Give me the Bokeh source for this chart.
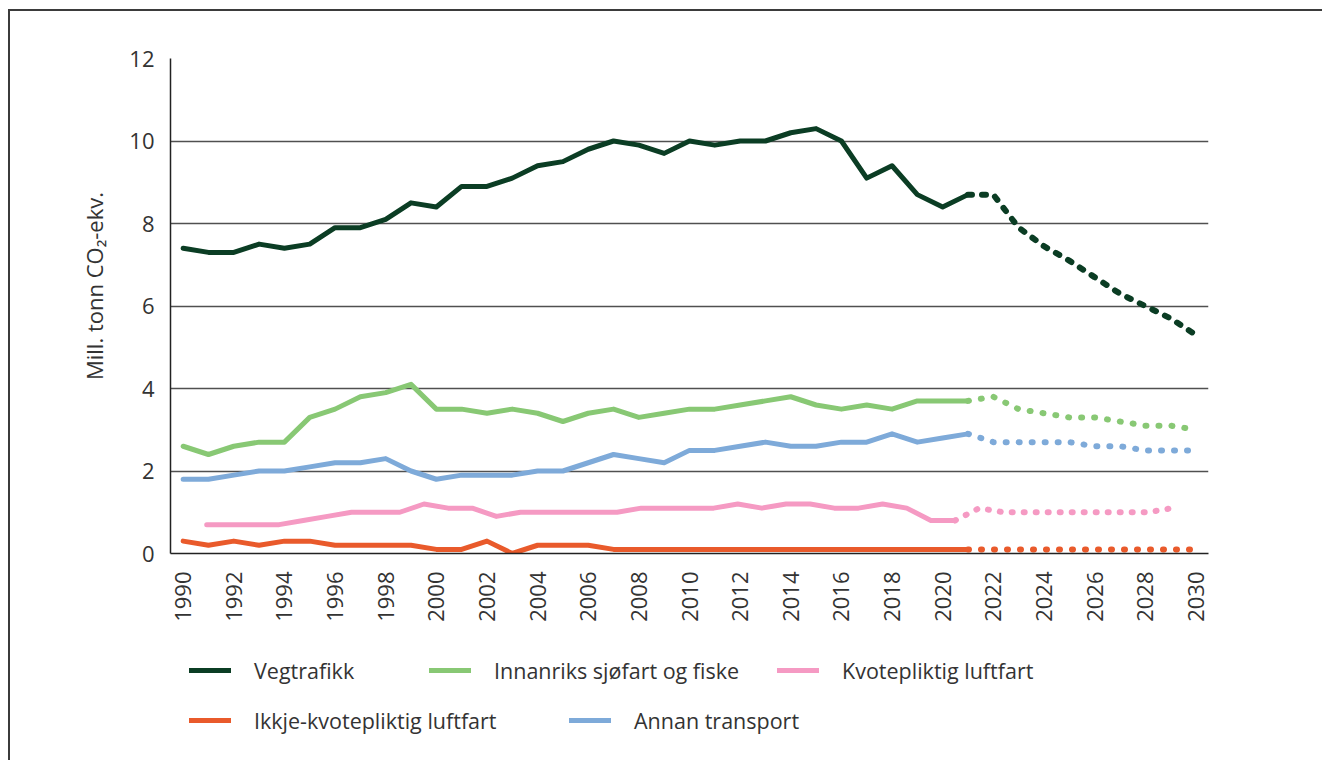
from math import pi
from bokeh.plotting import figure
from bokeh.layouts import column
from bokeh.models import Range1d, FixedTicker, Legend, LegendItem
from bokeh.embed import file_html
from bokeh.resources import INLINE

# ---------------- data ----------------
years_hist = list(range(1990, 2022))
years_proj = list(range(2021, 2031))

veg_hist = [7.4, 7.3, 7.3, 7.5, 7.4, 7.5, 7.9, 7.9, 8.1, 8.5, 8.4, 8.9, 8.9, 9.1, 9.4, 9.5,
            9.8, 10.0, 9.9, 9.7, 10.0, 9.9, 10.0, 10.0, 10.2, 10.3, 10.0, 9.1, 9.4, 8.7, 8.4, 8.7]
veg_proj = [8.7, 8.7, 7.9, 7.45, 7.1, 6.7, 6.3, 6.0, 5.7, 5.3]

sjo_hist = [2.6, 2.4, 2.6, 2.7, 2.7, 3.3, 3.5, 3.8, 3.9, 4.1, 3.5, 3.5, 3.4, 3.5, 3.4, 3.2,
            3.4, 3.5, 3.3, 3.4, 3.5, 3.5, 3.6, 3.7, 3.8, 3.6, 3.5, 3.6, 3.5, 3.7, 3.7, 3.7]
sjo_proj = [3.7, 3.8, 3.5, 3.4, 3.3, 3.3, 3.2, 3.1, 3.1, 3.0]

annan_hist = [1.8, 1.8, 1.9, 2.0, 2.0, 2.1, 2.2, 2.2, 2.3, 2.0, 1.8, 1.9, 1.9, 1.9, 2.0, 2.0,
              2.2, 2.4, 2.3, 2.2, 2.5, 2.5, 2.6, 2.7, 2.6, 2.6, 2.7, 2.7, 2.9, 2.7, 2.8, 2.9]
annan_proj = [2.9, 2.7, 2.7, 2.7, 2.7, 2.6, 2.6, 2.5, 2.5, 2.5]

ikkje_hist = [0.3, 0.2, 0.3, 0.2, 0.3, 0.3, 0.2, 0.2, 0.2, 0.2, 0.1, 0.1, 0.3, 0.0, 0.2, 0.2,
              0.2, 0.1, 0.1, 0.1, 0.1, 0.1, 0.1, 0.1, 0.1, 0.1, 0.1, 0.1, 0.1, 0.1, 0.1, 0.1]
ikkje_proj = [0.1, 0.1, 0.1, 0.1, 0.1, 0.1, 0.1, 0.1, 0.1, 0.1]

# In the original this series sits on its own, slightly compressed, category axis
kvote_years = list(range(1991, 2023))
kvote_proj_years = list(range(2022, 2032))
kvote_hist = [0.7, 0.7, 0.7, 0.7, 0.8, 0.9, 1.0, 1.0, 1.0, 1.2, 1.1, 1.1, 0.9, 1.0, 1.0, 1.0,
              1.0, 1.0, 1.1, 1.1, 1.1, 1.1, 1.2, 1.1, 1.2, 1.2, 1.1, 1.1, 1.2, 1.1, 0.8, 0.8]
kvote_proj = [0.8, 1.1, 1.0, 1.0, 1.0, 1.0, 1.0, 1.0, 1.0, 1.1]

x_ticks = [1990, 1992, 1994, 1996, 1998, 2000, 2002, 2004, 2006, 2008, 2010,
           2012, 2014, 2016, 2018, 2020, 2022, 2024, 2026, 2028, 2030]
y_ticks = [0, 2, 4, 6, 8, 10, 12]

y_label = "Mill. tonn CO₂-ekv."
labels = ["Vegtrafikk", "Innanriks sjøfart og fiske", "Kvotepliktig luftfart",
          "Ikkje-kvotepliktig luftfart", "Annan transport"]

C_VEG = "#0b3d24"
C_SJO = "#88c874"
C_KVO = "#f59ac3"
C_IKK = "#e95a2b"
C_ANN = "#7eaad9"
TXT = "#333333"
FONT = "Open Sans"

# ---------------- main chart ----------------
p = figure(width=1312, height=622,
           x_range=Range1d(1989.5, 2030.5), y_range=Range1d(0, 12),
           output_backend="svg", toolbar_location=None,
           min_border_left=160, min_border_right=114,
           min_border_top=47, min_border_bottom=80)
p.extra_x_ranges = {"kvote": Range1d(1989.5, 2032.5)}
p.outline_line_color = None

p.xaxis.ticker = FixedTicker(ticks=x_ticks)
p.xaxis.major_label_orientation = pi / 2
p.yaxis.ticker = FixedTicker(ticks=y_ticks)
for ax in (p.xaxis, p.yaxis):
    ax.major_tick_line_color = None
    ax.minor_tick_line_color = None
    ax.major_tick_out = 0
    ax.major_tick_in = 0
    ax.axis_line_color = "#222222"
    ax.axis_line_width = 1.5
    ax.major_label_text_font = FONT
    ax.major_label_text_font_size = "22px"
    ax.major_label_text_color = TXT
p.xaxis.major_label_standoff = 18
p.yaxis.major_label_standoff = 16
# leading no-break spaces lift the label a little, as in the original
p.yaxis.axis_label = "\u00a0" * 7 + y_label
p.yaxis.axis_label_text_font = FONT
p.yaxis.axis_label_text_font_size = "22px"
p.yaxis.axis_label_text_font_style = "normal"
p.yaxis.axis_label_text_color = TXT
p.yaxis.axis_label_standoff = 17

p.xgrid.visible = False
p.ygrid.ticker = FixedTicker(ticks=y_ticks)
p.ygrid.grid_line_color = "#505050"
p.ygrid.grid_line_width = 1.3

solid = dict(line_width=5, line_cap="round", line_join="round")
dots = dict(line_width=6, line_cap="round", line_join="round")

p.line(years_hist, ikkje_hist, line_color=C_IKK, **solid)
p.line(years_proj, ikkje_proj, line_color=C_IKK, line_dash="1 12", **dots)

p.line(kvote_years, kvote_hist, line_color=C_KVO, x_range_name="kvote", **solid)
p.line(kvote_proj_years, kvote_proj, line_color=C_KVO, line_dash="1 11", x_range_name="kvote", **dots)

p.line(years_hist, annan_hist, line_color=C_ANN, **solid)
p.line(years_proj, annan_proj, line_color=C_ANN, line_dash="1 12", **dots)

p.line(years_hist, sjo_hist, line_color=C_SJO, **solid)
p.line(years_proj, sjo_proj, line_color=C_SJO, line_dash="1 12", **dots)

p.line(years_hist, veg_hist, line_color=C_VEG, **solid)
p.line(years_proj, veg_proj, line_color=C_VEG, line_dash="4 10", **dots)

# ---------------- legend strip ----------------
lg = figure(width=1312, height=127, x_range=Range1d(0, 1), y_range=Range1d(0, 1),
            x_axis_type=None, y_axis_type=None, output_backend="svg",
            toolbar_location=None, min_border_left=0, min_border_right=0,
            min_border_top=0, min_border_bottom=0)
lg.outline_line_color = None
lg.xgrid.visible = False
lg.ygrid.visible = False

nan = float("nan")
legend_spec = [
    (C_VEG, labels[0], 19, 75),
    (C_SJO, labels[1], 259, 75),
    (C_KVO, labels[2], 607, 75),
    (C_IKK, labels[3], 19, 25),
    (C_ANN, labels[4], 399, 25),
]
for col, lab, lx, ly in legend_spec:
    # swatch-only renderer (no visible data) so the legend can draw the line sample
    rend = lg.line(x=[nan, nan], y=[nan, nan], line_color=col, **solid)
    leg = Legend(items=[LegendItem(label=lab, renderers=[rend])], location=(lx, ly),
                 glyph_width=42, glyph_height=30, label_height=30, label_standoff=23,
                 padding=0, margin=0, spacing=0,
                 border_line_color=None, background_fill_alpha=0,
                 label_text_font=FONT, label_text_font_size="21.5px",
                 label_text_color=TXT, label_text_baseline="middle")
    lg.add_layout(leg, "center")

page = column(p, lg, spacing=0,
              styles={"margin-left": "8px", "margin-top": "9px",
                      "border-left": "2px solid #3b3b3b", "border-top": "2px solid #3b3b3b"})

open("out.html", "w").write(file_html(page, INLINE))
